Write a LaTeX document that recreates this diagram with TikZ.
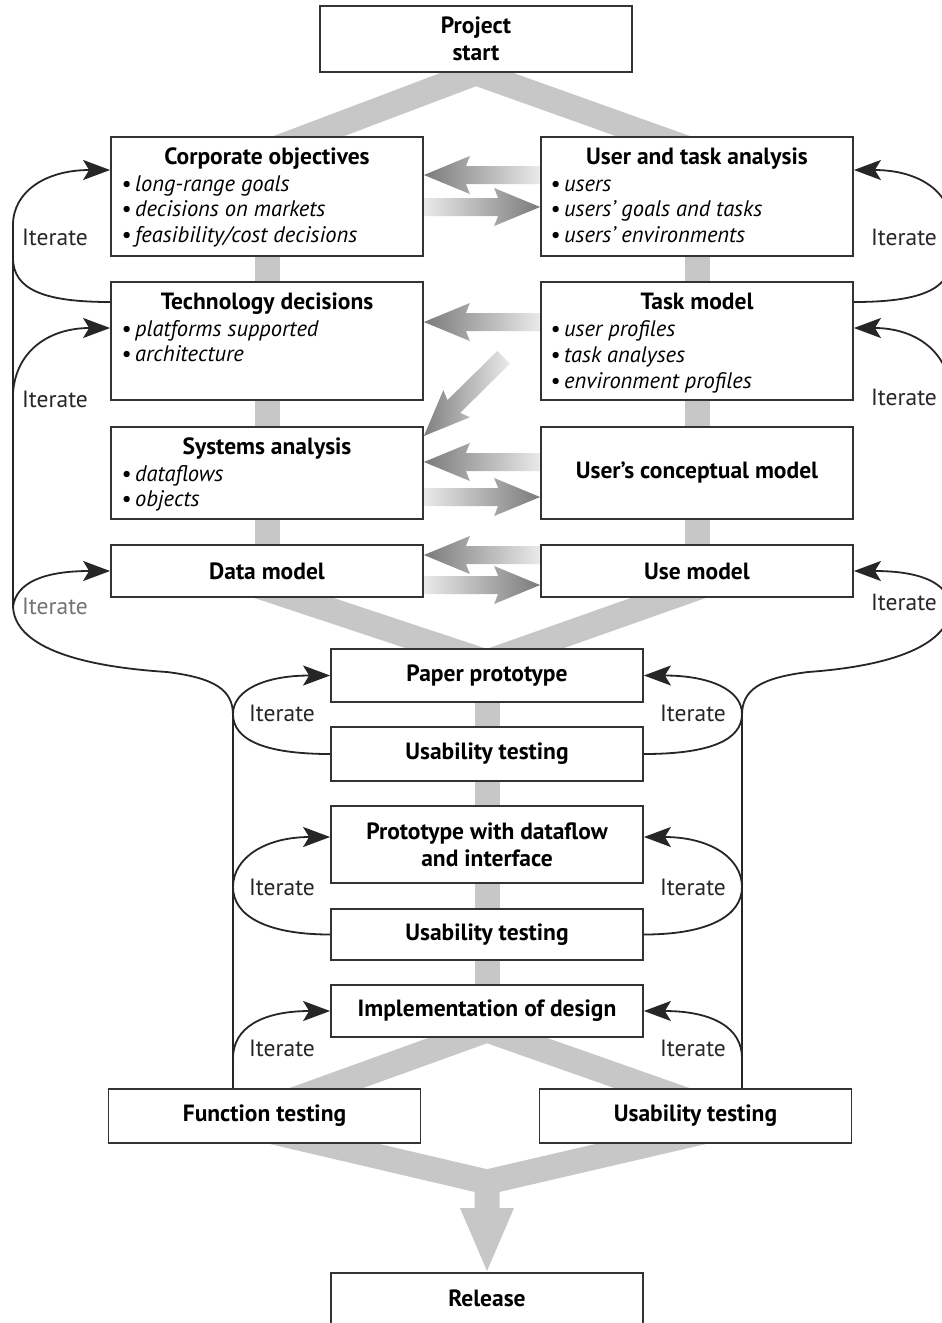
\documentclass[tikz,border=0pt]{standalone}
\usepackage{fontspec}
\setmainfont{PT Sans}
\usetikzlibrary{arrows.meta}
\pgfdeclarelayer{bg}
\pgfsetlayers{bg,main}
\newcommand\fTitle{\fontsize{23.5}{27}\selectfont\bfseries}
\newcommand\fBul{\fontsize{22.5}{25}\selectfont\itshape}
\newcommand\fItr{\fontsize{23.5}{25}\selectfont}
% gradient arrow pointing left: #1 tip, #2 length
\newcommand\garL[2]{\shade[left color=black!52, right color=black!7, shift={(#1)}] (0,0) -- (46,-19) -- (42,-9) -- (#2,-9) -- (#2,9) -- (42,9) -- (46,19) -- cycle;}
% gradient arrow pointing right
\newcommand\garR[2]{\shade[left color=black!7, right color=black!52, shift={(#1)}] (0,0) -- (-46,-19) -- (-42,-9) -- (-#2,-9) -- (-#2,9) -- (-42,9) -- (-46,19) -- cycle;}
\tikzset{
  box/.style={draw=black!80, line width=1.8pt, fill=white, inner sep=0pt, minimum width=312pt, font=\fTitle, align=center},
  ttl/.style={font=\fTitle, inner sep=0pt, anchor=base},
  bul/.style={font=\fBul, inner sep=0pt, anchor=base west},
  itr/.style={font=\fItr, inner sep=0pt, text=black!85},
  itline/.style={draw=black!85, line width=1.8pt},
  itarrow/.style={itline, -{Stealth[length=27pt,width=20pt,inset=6pt]}},
  gband/.style={draw=black!22, line width=25pt, line join=miter},
}
\begin{document}
\begin{tikzpicture}[x=1pt,y=-1pt]
\useasboundingbox (0,0) rectangle (942,1323);
\clip (0,0) rectangle (942,1323);

% ---------- boxes ----------
\node[box, minimum height=66pt] (start) at (476,39) {Project\\start};
\node[box, minimum height=119pt] (corp) at (267,196.5) {};
\node[box, minimum height=119pt] (uta) at (697,196.5) {};
\node[box, minimum height=118pt] (tech) at (267,341) {};
\node[box, minimum height=118pt] (task) at (697,341) {};
\node[box, minimum height=92pt] (sys) at (267,473) {};
\node[box, minimum height=92pt] (ucm) at (697,473) {User’s conceptual model};
\node[box, minimum height=52pt] (data) at (267,571) {Data model};
\node[box, minimum height=52pt] (use) at (697,571) {Use model};
\node[box, minimum height=53pt] (paper) at (487,675.5) {Paper prototype};
\node[box, minimum height=54pt] (ut1) at (487,754) {Usability testing};
\node[box, minimum height=77pt] (proto) at (487,844.5) {Prototype with dataflow\\and interface};
\node[box, minimum height=51pt] (ut2) at (487,934.5) {Usability testing};
\node[box, minimum height=52pt] (impl) at (487,1011) {Implementation of design};
\node[box, minimum height=54pt] (func) at (264.5,1116) {Function testing};
\node[box, minimum height=54pt] (ut3) at (695.5,1116) {Usability testing};
\node[box, minimum height=62pt] (release) at (487,1304) {};
\node[ttl] (releaseT) at (487,1306) {Release};

% ---------- titles and bullets ----------
\node[ttl] (corpT) at (267,164) {Corporate objectives};
\node[bul] (corp1) at (121,191) {\textbullet\,long-range goals};
\node[bul] (corp2) at (121,216) {\textbullet\,decisions on markets};
\node[bul] (corp3) at (121,242) {\textbullet\,feasibility/cost decisions};

\node[ttl] (utaT) at (697,164) {User and task analysis};
\node[bul] (uta1) at (550,191) {\textbullet\,users};
\node[bul] (uta2) at (550,216) {\textbullet\,users’ goals and tasks};
\node[bul] (uta3) at (550,242) {\textbullet\,users’ environments};

\node[ttl] (techT) at (267,309) {Technology decisions};
\node[bul] (tech1) at (121,336) {\textbullet\,platforms supported};
\node[bul] (tech2) at (121,361) {\textbullet\,architecture};

\node[ttl] (taskT) at (697,309) {Task model};
\node[bul] (task1) at (550,336) {\textbullet\,user profiles};
\node[bul] (task2) at (550,362) {\textbullet\,task analyses};
\node[bul] (task3) at (550,388) {\textbullet\,environment profiles};

\node[ttl] (sysT) at (267,454) {Systems analysis};
\node[bul] (sys1) at (121,481) {\textbullet\,dataflows};
\node[bul] (sys2) at (121,506) {\textbullet\,objects};

% ---------- background: bands and gradient arrows ----------
\begin{pgfonlayer}{bg}
\fill[white] (0,0) rectangle (942,1323);
\draw[gband] (272,150) -- (start.south -| 476,74) -- (692,150);
\draw[gband] (corp.south -| 267,0) -- (data.north -| 267,0);
\draw[gband] (uta.south -| 697,0) -- (use.north -| 697,0);
\draw[gband] (255,585) -- (487,662) -- (705,585);
\draw[gband] (paper.south) -- (impl.north);
\draw[gband] (293,1100) -- (487,1030) -- (686,1100);
\draw[gband] (265,1130) -- (487,1182) -- (711,1130);
\fill[black!22] (474.5,1175) -- (499.5,1175) -- (499.5,1208) -- (514,1208) -- (487,1271) -- (460,1208) -- (474.5,1208) -- cycle;

\garL{corp.east |- 0,175}{120}
\garR{uta.west |- 0,207}{120}
\garL{tech.east |- 0,322}{120}
\shade[left color=black!50, right color=black!8, shift={(sys.east |- 0,436)}, rotate=44.6]
  (0,0) -- (46,-19) -- (42,-9) -- (112,-9) -- (112,9) -- (42,9) -- (46,19) -- cycle;
\garL{sys.east |- 0,462}{120}
\garR{ucm.west |- 0,497}{120}
\garL{data.east |- 0,555}{120}
\garR{use.west |- 0,585}{120}
\end{pgfonlayer}

% ---------- iterate connectors: left ----------
\draw[itarrow] (tech.west |- 0,302) .. controls (45,302) and (13,290) .. (13,258) -- (13,225) .. controls (13,192) and (45,170) .. (corp.west |- 0,170);
\draw[itline] (func.north -| 233,0) -- (233,715) .. controls (233,690) and (215,678) .. (167,672) .. controls (60,665) and (13,640) .. (13,605) -- (13,225);
\draw[itarrow] (13,607) .. controls (16,582) and (45,571) .. (data.west);
\draw[itarrow] (13,393) .. controls (16,350) and (50,328) .. (tech.west |- 0,328);
\draw[itarrow] (ut1.west) .. controls (265,754) and (233,740) .. (233,714) .. controls (233,690) and (265,675.5) .. (paper.west);
\draw[itarrow] (ut2.west) .. controls (265,934.5) and (233,915) .. (233,887) .. controls (233,858) and (265,837) .. (proto.west |- 0,837);
\draw[itarrow] (233,1058) .. controls (233,1028) and (262,1011) .. (impl.west);

% ---------- iterate connectors: right ----------
\draw[itarrow] (task.east |- 0,302) .. controls (919,302) and (951,290) .. (951,258) -- (951,225) .. controls (951,192) and (919,170) .. (uta.east |- 0,170);
\draw[itline] (ut3.north -| 742,0) -- (742,715) .. controls (742,690) and (760,678) .. (808,672) .. controls (905,665) and (951,640) .. (951,605) -- (951,225);
\draw[itarrow] (951,607) .. controls (948,582) and (919,571) .. (use.east);
\draw[itarrow] (951,393) .. controls (948,350) and (914,328) .. (task.east |- 0,328);
\draw[itarrow] (ut1.east) .. controls (710,754) and (742,740) .. (742,714) .. controls (742,690) and (710,675.5) .. (paper.east);
\draw[itarrow] (ut2.east) .. controls (710,934.5) and (742,915) .. (742,887) .. controls (742,858) and (710,837) .. (proto.east |- 0,837);
\draw[itarrow] (742,1058) .. controls (742,1028) and (713,1011) .. (impl.east);

% ---------- iterate labels ----------
\node[itr] (iL1) at (55,237) {Iterate};
\node[itr] (iL2) at (55,399) {Iterate};
\node[itr, text=black!55] (iL3) at (55,606) {Iterate};
\node[itr] (iR1) at (904,237) {Iterate};
\node[itr] (iR2) at (904,397) {Iterate};
\node[itr] (iR3) at (904,602) {Iterate};
\node[itr] (iC1) at (282,713) {Iterate};
\node[itr] (iC2) at (282,887) {Iterate};
\node[itr] (iC3) at (282,1048) {Iterate};
\node[itr] (iD1) at (693,713) {Iterate};
\node[itr] (iD2) at (693,887) {Iterate};
\node[itr] (iD3) at (693,1048) {Iterate};
\end{tikzpicture}
\end{document}
